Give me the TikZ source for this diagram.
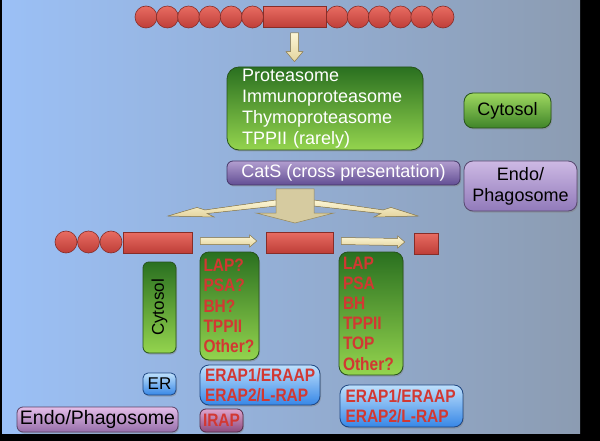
\documentclass[tikz,border=0pt]{standalone}
\usepackage{fontspec}
\setmainfont{Liberation Sans}
\newfontfamily\narrowsans[FakeStretch=0.86]{Liberation Sans}
\usetikzlibrary{%
  shapes,%
  shadows,%
  calc,%
  positioning%
}

\definecolor{bgleft}{RGB}{155,192,246}
\definecolor{bgright}{RGB}{140,156,178}
\definecolor{greendark}{RGB}{42,112,32}
\definecolor{greenlight}{RGB}{148,212,78}
\definecolor{greenedge}{RGB}{38,82,28}
\definecolor{purpletop}{RGB}{178,158,208}
\definecolor{purplebot}{RGB}{98,78,148}
\definecolor{lavtop}{RGB}{205,185,228}
\definecolor{lavbot}{RGB}{145,122,186}
\definecolor{pinktop}{RGB}{228,190,232}
\definecolor{pinkbot}{RGB}{150,110,170}
\definecolor{bluetop}{RGB}{190,224,252}
\definecolor{bluebot}{RGB}{55,135,230}
\definecolor{blueedge}{RGB}{30,70,130}
\definecolor{mauvetop}{RGB}{222,165,205}
\definecolor{mauvebot}{RGB}{140,75,125}
\definecolor{beadtop}{RGB}{232,108,98}
\definecolor{beadbot}{RGB}{190,62,56}
\definecolor{pepedge}{RGB}{135,45,40}
\definecolor{enzred}{RGB}{210,56,50}
\definecolor{beigetop}{RGB}{252,246,214}
\definecolor{beigebot}{RGB}{228,212,158}
\definecolor{khaki}{RGB}{214,203,160}
\definecolor{beigeedge}{RGB}{150,135,90}

\begin{document}
\begin{tikzpicture}[x=1pt,y=-1pt,
  Box/.style={rounded corners=9pt, line width=0.8pt, inner sep=0pt,
    drop shadow={shadow xshift=1pt,shadow yshift=-1.5pt,opacity=.45}},
  Green/.style={Box, top color=greendark, bottom color=greenlight, draw=greenedge},
  Purple/.style={Box, top color=purpletop, bottom color=purplebot, draw=purplebot!70!black},
  Lavender/.style={Box, top color=lavtop, bottom color=lavbot, draw=lavbot!60!black},
  Pink/.style={Box, top color=pinktop, bottom color=pinkbot, draw=pinkbot!60!black},
  Blue/.style={Box, top color=bluetop, bottom color=bluebot, draw=blueedge},
  Mauve/.style={Box, rounded corners=6pt, top color=mauvetop, bottom color=mauvebot,
    draw=mauvebot!60!black},
  Bead/.style={circle, minimum size=22, inner sep=0pt, top color=beadtop,
    bottom color=beadbot, draw=pepedge, line width=0.6pt},
  Peptide/.style={rectangle, inner sep=0pt, minimum height=21, top color=beadtop,
    bottom color=beadbot, draw=pepedge, line width=0.6pt},
  Arrow/.style={top color=beigetop, bottom color=beigebot, draw=beigeedge, line width=0.5pt},
  Split/.style={fill=khaki, draw=beigeedge, line width=0.5pt},
  White/.style={text=white, font={\fontsize{18}{21}\selectfont}},
  Dark/.style={text=black, font={\fontsize{18}{21}\selectfont}},
  Red/.style={text=enzred, font={\narrowsans\fontsize{18}{20.2}\selectfont\bfseries}}]

  \useasboundingbox (0,0) rectangle (600,441);
  \fill[black] (0,0) rectangle (600,441);
  \shade[left color=bgleft, right color=bgright] (2,1) rectangle (580,433);

  % whole protein
  \foreach \i in {0,...,5} {
    \node[Bead] (l\i) at ({146+21.3*\i},17) {};
  }
  \foreach \i in {0,...,5} {
    \node[Bead] (r\i) at ({337+21.2*\i},17) {};
  }
  \node[Peptide, minimum width=63] (epi) at (294.5,17) {};

  % cytosolic / endosomal cleavage
  \node[Green, White, rounded corners=12pt, text width=166, align=left,
    minimum width=196, minimum height=83]
    (prot) at (325,108.5) {Proteasome\\Immunoproteasome\\Thymoproteasome\\TPPII (rarely)};
  \node[Green, Dark, top color=greenlight!90!white, bottom color=greendark!80!greenlight,
    minimum width=87, minimum height=35] (cyto1) at (507.5,110.5) {Cytosol};
  \node[Purple, White, rounded corners=6pt, minimum width=233, minimum height=24]
    (cats) at (343.5,173) {CatS (cross presentation)};
  \node[Lavender, Dark, align=center, minimum width=113, minimum height=50] (endo1)
    at (520.5,186) {Endo/\\Phagosome};

  % down arrow
  \path (epi.south) ++(0,5) coordinate (d1);
  \path (prot.north -| d1) ++(0,-5) coordinate (d2);
  \filldraw[Arrow] ($(d1)+(-4,0)$) -- ($(d2)+(-4,-10)$) -- ($(d2)+(-8.5,-10)$) -- (d2)
    -- ($(d2)+(8.5,-10)$) -- ($(d2)+(4,-10)$) -- ($(d1)+(4,0)$) -- cycle;

  % split arrow
  \filldraw[Arrow] (276,200) -- (205,210) -- (197,207.5) -- (168,216) -- (214,217)
    -- (207,213.5) -- (276,206) -- cycle;
  \filldraw[Arrow] (314,200) -- (383,210) -- (391,207.5) -- (418,216) -- (374,217)
    -- (381,213.5) -- (314,206) -- cycle;
  \filldraw[Split] (276,189) -- (276,213) -- (256,213) -- (295,223) -- (334,213)
    -- (314,213) -- (314,189) -- cycle;

  % fragments
  \foreach \i in {0,1,2} {
    \node[Bead] (m\i) at ({66+22.5*\i},242) {};
  }
  \node[Peptide, minimum width=69] (frag1) at (157.5,242.5) {};
  \node[Peptide, minimum width=67] (frag2) at (299.5,242.5) {};
  \node[Peptide, minimum width=24] (frag3) at (426,243.5) {};

  \foreach \a/\b in {frag1/frag2,frag2/frag3} {
    \path ($(\a.east)+(8,-1.5)$) coordinate (hs) ($(\b.west)+(-9,-1.5)$) coordinate (he);
    \filldraw[Arrow] ($(hs)+(0,-3.5)$) -- ($(he)+(-7,-3.5)$) -- ($(he)+(-7,-6)$) -- (he)
      -- ($(he)+(-7,6)$) -- ($(he)+(-7,3.5)$) -- ($(hs)+(0,3.5)$) -- cycle;
  }

  % trimming enzymes
  \node[Green, Dark, rounded corners=6pt, rotate=90, font={\fontsize{17}{20}\selectfont},
    minimum width=91, minimum height=33] (cyto2) at (159.5,307.5) {Cytosol};
  \node[Green, Red, text width=52, align=left, minimum width=59, minimum height=108]
    (enz1) at (229.5,306) {LAP?\\PSA?\\BH?\\TPPII\\Other?};
  \node[Green, Red, text width=56, align=left, minimum width=64, minimum height=123]
    (enz2) at (371,313.5) {LAP\\PSA\\BH\\TPPII\\TOP\\Other?};

  \node[Blue, Dark, rounded corners=5pt, font={\fontsize{17}{20}\selectfont},
    minimum width=33, minimum height=22] (er) at (159.5,384) {ER};
  \node[Blue, Red, text width=110, align=left, minimum width=120, minimum height=40]
    (erap1) at (260,385) {ERAP1/ERAAP\\ERAP2/L-RAP};
  \node[Blue, Red, text width=112, align=left, minimum width=123, minimum height=42]
    (erap2) at (401.5,406) {ERAP1/ERAAP\\ERAP2/L-RAP};

  \node[Pink, Dark, rounded corners=6pt, font={\fontsize{19.5}{22}\selectfont},
    minimum width=161, minimum height=25] (endo2) at (97.5,419.5) {Endo/Phagosome};
  \node[Mauve, Red, minimum width=43, minimum height=23] (irap) at (221.5,420.5) {IRAP};
\end{tikzpicture}
\end{document}
